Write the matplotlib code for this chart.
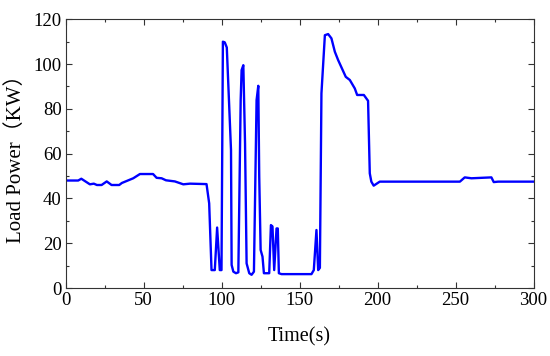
import matplotlib

matplotlib.use("Agg")
import matplotlib.pyplot as plt
from matplotlib.ticker import MultipleLocator

# load power profile
time_s = [0, 8, 10, 15.5, 18, 20, 23, 26.3, 29.4, 34.3, 36, 43.3, 47.6, 56, 58.3,
          61.5, 64.3, 70, 75.4, 79.7, 90.3, 92, 93.5, 95.6, 97.1, 98.8, 99.9,
          100.8, 102, 103.3, 106, 106.4, 107.5, 109.2, 110.7, 112.2, 112.8,
          113.9, 115, 116, 117.7, 119.2, 120.7, 122.4, 123.5, 124.1, 125,
          126.2, 127.1, 130.5, 131.6, 132.6, 133.7, 135.2, 136, 136.7, 138.4,
          157.6, 159.1, 160.8, 161.9, 163, 164, 166.2, 168.3, 170.4, 172.6,
          174.7, 179.6, 182.2, 185.4, 186.9, 191.2, 193.9, 195, 196, 197.5,
          201.4, 252.8, 255.9, 260.2, 273, 274.5, 277.3, 300]
load_kw = [48, 48, 48.8, 46.3, 46.6, 46, 46, 47.6, 46, 46, 46.9, 49, 50.9, 50.9,
           49.2, 49, 48.1, 47.6, 46.3, 46.6, 46.4, 37.8, 8, 8, 27, 8, 8,
           110, 109.7, 107.4, 61.6, 10.3, 7.3, 6.6, 7, 83.9, 97.3,
           99.5, 64.6, 11, 6.6, 5.9, 7.3, 83.9, 90.3, 49.7, 17,
           14, 6.6, 6.6, 28.1, 27.5, 8, 26.6, 26.6, 6.6, 6.2,
           6.2, 8, 25.9, 8, 9, 86.9, 112.9, 113.4, 111.5, 105.5,
           101.8, 94.3, 92.9, 89.1, 86.2, 86.2, 83.6, 51.2, 47.5, 45.7,
           47.5, 47.5, 49.4, 49, 49.4, 47.3, 47.5, 47.5]

serif = ["Liberation Serif", "Noto Sans CJK SC"]

fig = plt.figure(figsize=(5.5, 3.56), dpi=100)
ax = fig.add_axes([0.1195, 0.191, 0.8505, 0.7548])

ax.plot(time_s, load_kw, color="#0000ff", lw=1.7)

ax.set_xlim(0, 300)
ax.set_ylim(0, 120)
ax.xaxis.set_major_locator(MultipleLocator(50))
ax.xaxis.set_minor_locator(MultipleLocator(25))
ax.yaxis.set_major_locator(MultipleLocator(20))
ax.yaxis.set_minor_locator(MultipleLocator(10))
ax.tick_params(which="both", direction="in", top=True, right=True,
               width=0.8, color="#333333")
ax.tick_params(which="major", length=4, labelsize=13.5, pad=3)
ax.tick_params(which="minor", length=2.5)
for lab in ax.get_xticklabels() + ax.get_yticklabels():
    lab.set_family(serif)
for sp in ax.spines.values():
    sp.set_linewidth(0.8)
    sp.set_color("#333333")

ax.set_xlabel("Time(s)", family=serif, fontsize=14.5, labelpad=13)
ax.set_ylabel("Load Power（KW）", family=serif, fontsize=15, labelpad=5)

fig.savefig("out.png", dpi=100)
plt.close(fig)
